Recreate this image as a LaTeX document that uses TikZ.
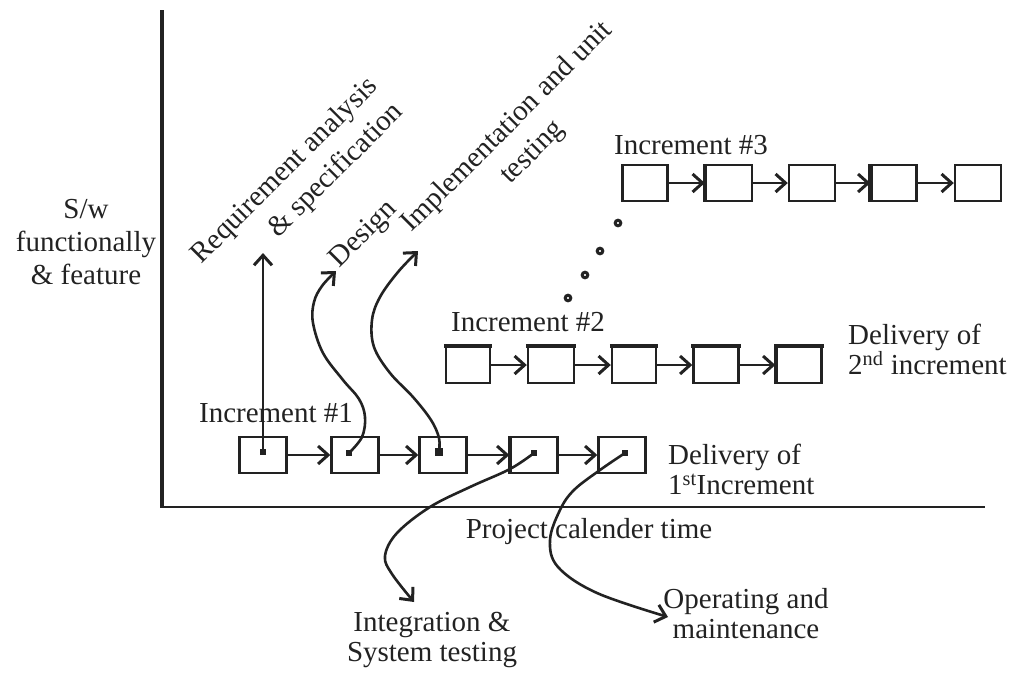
\documentclass[tikz,border=0pt]{standalone}
\usepackage{fontspec}
\setmainfont{Liberation Serif}
\usetikzlibrary{arrows.meta}
\definecolor{ink}{HTML}{222222}
\tikzset{
  x=1pt, y=-1pt,
  every node/.style={font=\fontsize{29}{30}\selectfont, text=ink, inner sep=0pt},
  slanted/.style={rotate=45, font=\fontsize{29}{36}\selectfont},
  stagebox/.style={draw=ink, line width=2.4pt, minimum width=#1, minimum height=36pt},
  stagebox/.default=46pt,
  arr/.style={draw=ink, line width=2.4pt, -{Straight Barb[length=10pt,width=18pt,line width=3pt]}},
  curvearr/.style={arr, line width=2.6pt},
  dotsq/.style={fill=ink, minimum size=5.5pt},
  thickedge/.style={draw=ink, line width=4.5pt},
  seqdot/.style={draw=ink, line width=3pt},
}
\begin{document}
\begin{tikzpicture}
\useasboundingbox (0,0) rectangle (1012,673);

% axes
\draw[ink, line width=4.5pt] (162,10) -- (162,508);
\draw[ink, line width=2.8pt] (160,507) -- (985,507);

% axis labels
\node[align=center, font=\fontsize{29}{33}\selectfont] (ylab) at (86,242) {S/w\\functionally\\\& feature};
\node (xlab) at (589,532) {Project calender time};

% increment 1
\node (inc1) at (276,413) {Increment \#1};
\node[stagebox=47pt] (a1) at (263,455) {};
\node[stagebox=47pt] (a2) at (355,455) {};
\node[stagebox=47pt] (a3) at (443,455) {};
\node[stagebox=47pt] (a4) at (534,455) {};
\node[stagebox=47pt] (a5) at (622,455) {};
\draw[thickedge, line width=3.5pt] (a4.north west) -- (a4.south west);
\foreach \i/\j in {1/2,2/3,3/4,4/5} \draw[arr] (a\i.east) -- (a\j.west);
\node[align=left, anchor=west] (del1) at (668,469) {Delivery of\\1\textsuperscript{st}Increment};

% increment 2
\node (inc2) at (528,322) {Increment \#2};
\node[stagebox=44pt] (b1) at (468,365) {};
\node[stagebox=46pt] (b2) at (551,365) {};
\node[stagebox=44pt] (b3) at (634,365) {};
\node[stagebox=45pt] (b4) at (716,365) {};
\node[stagebox=45pt] (b5) at (799,365) {};
\foreach \i in {1,...,5} \draw[thickedge] ([xshift=-1pt]b\i.north west) -- ([xshift=1pt]b\i.north east);
\draw[thickedge, line width=3.5pt] (b5.north west) -- (b5.south west);
\foreach \i/\j in {1/2,2/3,3/4,4/5} \draw[arr] (b\i.east) -- (b\j.west);
\node[align=left, anchor=west] (del2) at (848,349) {Delivery of\\2\textsuperscript{nd} increment};

% increment 3
\node (inc3) at (691,145) {Increment \#3};
\node[stagebox=45pt] (c1) at (645,183) {};
\node[stagebox=46pt] (c2) at (729,183) {};
\node[stagebox=46pt] (c3) at (812,183) {};
\node[stagebox=45pt] (c4) at (894,183) {};
\node[stagebox=46pt] (c5) at (978,183) {};
\draw[thickedge, line width=4pt] (c2.north west) -- (c2.south west);
\draw[thickedge, line width=4pt] (c4.north west) -- (c4.south west);
\foreach \i/\j in {1/2,2/3,3/4,4/5} \draw[arr] (c\i.east) -- (c\j.west);

% continuation dots between increments
\foreach \p in {(568,298),(585,275),(600,251),(618,223)}
  \draw[seqdot] \p circle[radius=2.8pt];

% phase labels
\node[slanted, align=right] (req) at (298,184) {Requirement analysis\\\& specification};
\node[slanted] (design) at (364,235) {Design};
\node[slanted, align=center] (impl) at (520,140) {Implementation and unit\\testing};
\node[align=center] (integ) at (432,640) {Integration \&\\System testing};
\node[align=center] (oper) at (746,614) {Operating and\\maintenance};

% phase markers inside the first increment
\node[dotsq] (m1) at (263,452) {};
\node[dotsq] (m2) at (349,453) {};
\node[dotsq, minimum size=7.5pt] (m3) at (439,452) {};
\node[dotsq] (m4) at (534,453) {};
\node[dotsq] (m5) at (625,453) {};

% arrow ends
\coordinate (reqtip) at (263,253);
\coordinate (destip) at (336,271);
\coordinate (imptip) at (418,251);
\coordinate (inttip) at (414,602);
\coordinate (opetip) at (668,617);

% phase connectors
\draw[arr] (m1.center) -- (reqtip);
\draw[curvearr] plot[smooth, tension=0.6] coordinates
  {(m2.center) (362,437) (365,417) (359,399) (343,380) (323,353) (313,323) (314,302) (322,286) (destip)};
\draw[curvearr] plot[smooth, tension=0.6] coordinates
  {(m3.center) (439,438) (431,420) (413,397) (390,373) (374,347) (372,320) (380,297) (398,272) (imptip)};
\draw[curvearr] plot[smooth, tension=0.6] coordinates
  {(m4.center) (510,469) (470,487) (430,507) (397,533) (385,556) (392,574) (inttip)};
\draw[curvearr] plot[smooth, tension=0.6] coordinates
  {(m5.center) (600,470) (574,490) (560,510) (550,540) (558,567) (597,593) (opetip)};
\end{tikzpicture}
\end{document}
